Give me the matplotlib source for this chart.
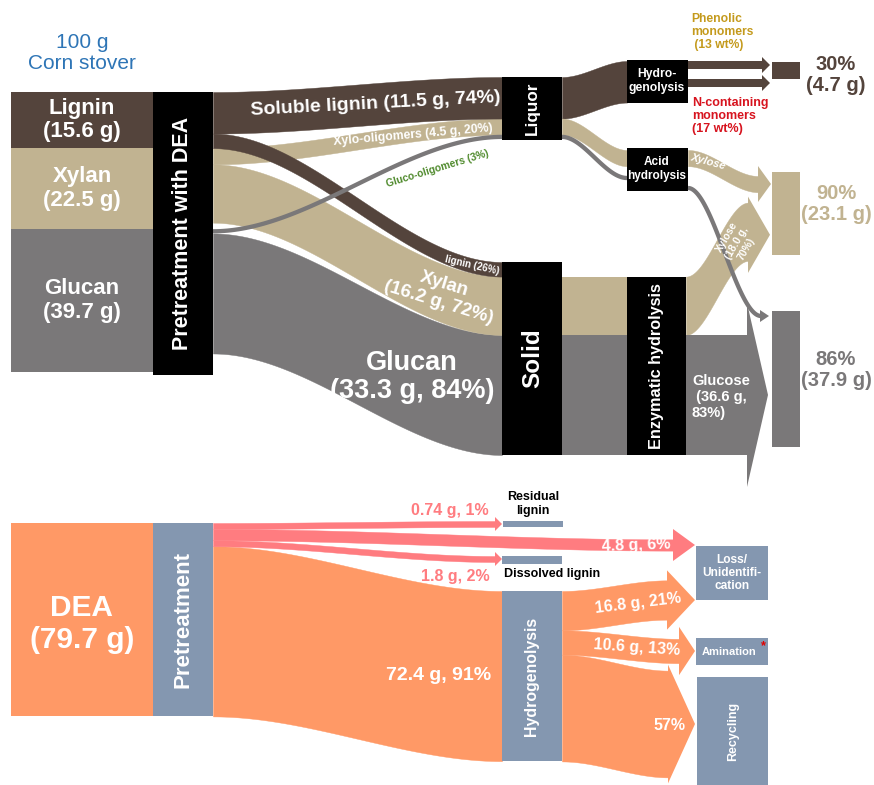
import numpy as np
import matplotlib.pyplot as plt
from matplotlib.patches import Rectangle

plt.rcParams['font.family'] = ['Liberation Sans', 'DejaVu Sans']

BROWN = '#54443c'
TAN = '#c1b391'
GRAY = '#7a7879'
ORANGE = '#ff9966'
PINK = '#ff7c80'
SLATE = '#8497b0'

# ---- corn stover part (g) ----
comp_names = ['Lignin', 'Xylan', 'Glucan']
comp_mass = [15.6, 22.5, 39.7]
liquor_pct = [74, 20, 3]          # share of each component going to the liquor
solid_pct = [26, 72, 84]          # share kept in the solid
liquor_names = ['Soluble lignin', 'Xylo-oligomers', 'Gluco-oligomers']
enz_names = ['Xylose', 'Glucose']
enz_mass = [18.0, 36.6]
enz_pct = [70, 83]
monomer_names = ['Phenolic\nmonomers', 'N-containing\nmonomers']
monomer_wt = [13, 17]
product_yield = [30, 90, 86]
product_mass = [4.7, 23.1, 37.9]

# ---- DEA part (g) ----
dea_mass = 79.7
pre_names = ['Residual\nlignin', 'Loss', 'Dissolved lignin', 'Hydrogenolysis']
pre_mass = [0.74, 4.8, 1.8, 72.4]
pre_pct = [1, 6, 2, 91]
hyd_names = ['Loss/\nUnidentifi-\ncation', 'Amination', 'Recycling']
hyd_mass = [16.8, 10.6, None]
hyd_pct = [21, 13, 57]

fig = plt.figure(figsize=(8.74, 7.85), dpi=100)
ax = fig.add_axes([0, 0, 1, 1])
ax.set_xlim(0, 874)
ax.set_ylim(785, 0)
ax.axis('off')


def smooth(t):
    return t * t * (3 - 2 * t)


def band(x0, x1, t0, b0, t1, b1, color):
    x = np.linspace(x0, x1, 80)
    s = smooth((x - x0) / (x1 - x0))
    ax.fill_between(x, t0 + (t1 - t0) * s, b0 + (b1 - b0) * s,
                    color=color, lw=0.3, edgecolor=color)


def curve(x0, x1, y0, y1, color, lw):
    x = np.linspace(x0, x1, 80)
    s = smooth((x - x0) / (x1 - x0))
    ax.plot(x, y0 + (y1 - y0) * s, color=color, lw=lw, solid_capstyle='butt')


def head(xb, ytop, ybot, xt, yt, color):
    ax.fill([xb, xt, xb], [ytop, yt, ybot], color=color, lw=0)


def box(x, y, w, h, color):
    ax.add_patch(Rectangle((x, y), w, h, color=color, lw=0))


def label(x, y, s, size, color='white', rot=0, ha='center', weight='bold', **kw):
    ax.text(x, y, s, fontsize=size, color=color, rotation=rot, ha=ha, va='center',
            fontweight=weight, rotation_mode='anchor', linespacing=1.15, **kw)


# ================= top: corn stover =================
S1 = 3.6
cols = [BROWN, TAN, GRAY]
liq_g = [m * p / 100 for m, p in zip(comp_mass, liquor_pct)]
sol_g = [m * p / 100 for m, p in zip(comp_mass, solid_pct)]

label(82, 53, '100 g\nCorn stover', 15, color='#2e75b6', weight='normal')

y = 92
sec = []
for name, m, c in zip(comp_names, comp_mass, cols):
    h = m * S1
    box(11, y, 142, h, c)
    label(82, y + h / 2, f'{name}\n({m} g)', 16)
    sec.append(y)
    y += h
bar_bot = y + 3
box(153, 92, 60, bar_bot - 92, 'black')
label(183, (92 + bar_bot) / 2, 'Pretreatment with DEA', 15.5, rot=90)

# stacking at liquor / solid
liq_pos, sol_pos = [], []
ly, sy = 77, 262
for i in range(3):
    wl, ws = liq_g[i] * S1, sol_g[i] * S1
    liq_pos.append((ly, ly + wl))
    sol_pos.append((sy, sy + ws))
    ly += wl
    sy += ws
src = [(sec[i], sec[i] + liq_g[i] * S1, sec[i] + (liq_g[i] + sol_g[i]) * S1) for i in range(3)]

# bands, drawn back to front
band(213, 502, src[2][1], src[2][2], *sol_pos[2], GRAY)
band(213, 502, src[1][1], src[1][2], *sol_pos[1], TAN)
band(213, 502, src[1][0], src[1][1], *liq_pos[1], TAN)
band(213, 502, src[0][0], src[0][1], *liq_pos[0], BROWN)
band(213, 502, src[0][1], src[0][2], *sol_pos[0], BROWN)
curve(213, 502, (src[2][0] + src[2][1]) / 2, sum(liq_pos[2]) / 2, GRAY, liq_g[2] * S1 * 0.72)

label(376, 104, f'{liquor_names[0]} ({liq_g[0]:.1f} g, {liquor_pct[0]}%)', 14, rot=3)
label(413, 135, f'{liquor_names[1]} ({liq_g[1]:.1f} g, {liquor_pct[1]}%)', 8.8, rot=5)
label(438, 169, f'{liquor_names[2]} ({liquor_pct[2]}%)', 7.4, color='#4f8a2c', rot=17)
label(472, 265, f'lignin ({solid_pct[0]}%)', 7, rot=-13)
label(441, 293, f'Xylan\n({sol_g[1]:.1f} g, {solid_pct[1]}%)', 13.5, rot=-17)
label(412, 377, f'Glucan\n({sol_g[2]:.1f} g, {solid_pct[2]}%)', 19.5)

# liquor and solid nodes
box(502, 77, 60, ly - 77 + 1, 'black')
label(532, (77 + ly) / 2, 'Liquor', 12.3, rot=90)
box(562, sol_pos[1][0], 65, sol_pos[1][1] - sol_pos[1][0], TAN)
box(562, sol_pos[2][0], 65, sol_pos[2][1] - sol_pos[2][0], GRAY)
box(502, 262, 60, sy - 262, 'black')
label(533, (262 + sy) / 2, 'Solid', 17.5, rot=90)

# liquor -> hydrogenolysis / acid hydrolysis
w0 = liq_g[0] * S1
band(562, 627, *liq_pos[0], 61, 61 + w0, BROWN)
w1 = liq_g[1] * S1
band(562, 627, *liq_pos[1], 150, 150 + w1, TAN)
curve(562, 627, sum(liq_pos[2]) / 2, 178, GRAY, liq_g[2] * S1 * 0.72)
box(627, 60, 61, w0 + 1, 'black')
label(657, 81, 'Hydro-\ngenolysis', 8.7)
box(627, 148, 61, 43, 'black')
label(657, 169, 'Acid\nhydrolysis', 8.5)

# hydrogenolysis -> monomers
for yc in [65, 83]:
    box(688, yc - 4, 74, 8, BROWN)
    head(762, yc - 8, yc + 8, 770, yc, BROWN)
label(691, 32, f'Phenolic\nmonomers\n ({monomer_wt[0]} wt%)', 8.7, color='#c49a1c', ha='left')
label(692, 116, f'N-containing\nmonomers\n({monomer_wt[1]} wt%)', 9, color='#d7141f', ha='left')

# enzymatic hydrolysis
e0, e1 = sol_pos[1][0], sol_pos[2][1]
box(627, e0, 59, e1 - e0, 'black')
label(656, (e0 + e1) / 2, 'Enzymatic hydrolysis', 11.7, rot=90)

# enzymatic -> xylose (diagonal arrow)
xa, xb = sol_pos[1]
band(686, 748, xa, xb, xa - 74, xb - 74, TAN)
head(748, xa - 80, xb - 62, 770, (xa + xb) / 2 - 71, TAN)
label(737, 243, f'{enz_names[0]}\n({enz_mass[0]} g,\n{enz_pct[0]}%)', 7.5, rot=60)

# acid -> xylose arrow
band(688, 758, 150, 150 + w1, 176, 176 + w1, TAN)
head(758, 166, 202, 771, 184, TAN)
label(708, 162, 'Xylose', 8, rot=-15, style='italic')

# enzymatic -> glucose arrow
ga, gb = sol_pos[2]
box(686, ga, 61, gb - ga, GRAY)
head(747, ga - 32, gb + 32, 768, (ga + gb) / 2, GRAY)
label(692, 397, f'{enz_names[1]}\n ({enz_mass[1]} g,\n{enz_pct[1]}%)', 10.5, ha='left')

# acid -> glucose line
curve(688, 761, 188, 316, GRAY, liq_g[2] * S1 * 0.72)
head(760, 310, 322, 769, 316, GRAY)

# product boxes
prod_top = [62, 172, 311]
prod_lab_y = [75, 204, 370]
for c, yt, yl, p, m in zip(cols, prod_top, prod_lab_y, product_yield, product_mass):
    box(772, yt, 28, m * S1, c)
    label(836, yl, f'{p}%\n({m} g)', 14.5, color=c)

# ================= bottom: DEA =================
S2 = 2.35
w_pre = [max(m * S2, 6) for m in pre_mass]
pos = []
y = 523
for w in w_pre:
    pos.append((y, y + w))
    y += w
pre_bot = y
box(11, 523, 142, pre_bot - 523, ORANGE)
label(82, 624, f'DEA\n({dea_mass} g)', 21.5)
box(153, 523, 60, pre_bot - 523, SLATE)
label(183, (523 + pre_bot) / 2, 'Pretreatment', 16, rot=90)

# main flow to hydrogenolysis
w3 = w_pre[3]
band(213, 502, *pos[3], 591, 591 + w3, ORANGE)
box(502, 591, 60, w3, SLATE)
label(532, 676, pre_names[3], 11.4, rot=90)
label(439, 676, f'{pre_mass[3]} g, {pre_pct[3]}%', 14)

# pink side flows
wa = w_pre[0]
band(213, 495, *pos[0], 521, 521 + wa, PINK)
head(495, 517, 531, 502, 524, PINK)
box(503, 521, 60, wa, SLATE)
wb = w_pre[1]
band(213, 673, *pos[1], 545 - wb / 2, 545 + wb / 2, PINK)
head(673, 529, 561, 695, 545, PINK)
wc = w_pre[2]
band(213, 495, *pos[2], 556, 556 + wc, PINK)
head(495, 552, 566, 502, 559, PINK)
box(502, 556, 60, wc + 2, SLATE)

label(450, 511, f'{pre_mass[0]} g, {pre_pct[0]}%', 11.5, color=PINK)
label(533, 504, pre_names[0], 9, color='black')
label(636, 545, f'{pre_mass[1]} g, {pre_pct[1]}%', 11.5, rot=2)
label(455, 577, f'{pre_mass[2]} g, {pre_pct[2]}%', 11.5, color=PINK)
label(504, 574, pre_names[2], 9, color='black', ha='left')

# hydrogenolysis outputs
hw = [p * dea_mass / 100 * S2 for p in hyd_pct]
ends = [(667, 600, 10), (679, 651, 12), (668, 724, 6)]
y = 591
for w, (xb_, yc, ext) in zip(hw, ends):
    band(562, xb_, y, y + w, yc - w / 2, yc + w / 2, ORANGE)
    head(xb_, yc - w / 2 - ext, yc + w / 2 + ext, 695, yc, ORANGE)
    y += w
label(638, 603, f'{hyd_mass[0]} g, {hyd_pct[0]}%', 11.5, rot=7)
label(637, 648, f'{hyd_mass[1]} g, {hyd_pct[1]}%', 11.5, rot=-4)
label(669, 725, f'{hyd_pct[2]}%', 11.5)

box(696, 546, 72, 54, SLATE)
label(732, 573, hyd_names[0], 8.6)
box(696, 638, 72, 27, SLATE)
label(729, 652, hyd_names[1], 8)
label(763, 646, '*', 9, color='#e00000')
box(697, 677, 71, 108, SLATE)
label(733, 731, hyd_names[2], 9, rot=90)

fig.savefig('out.png', dpi=100)
